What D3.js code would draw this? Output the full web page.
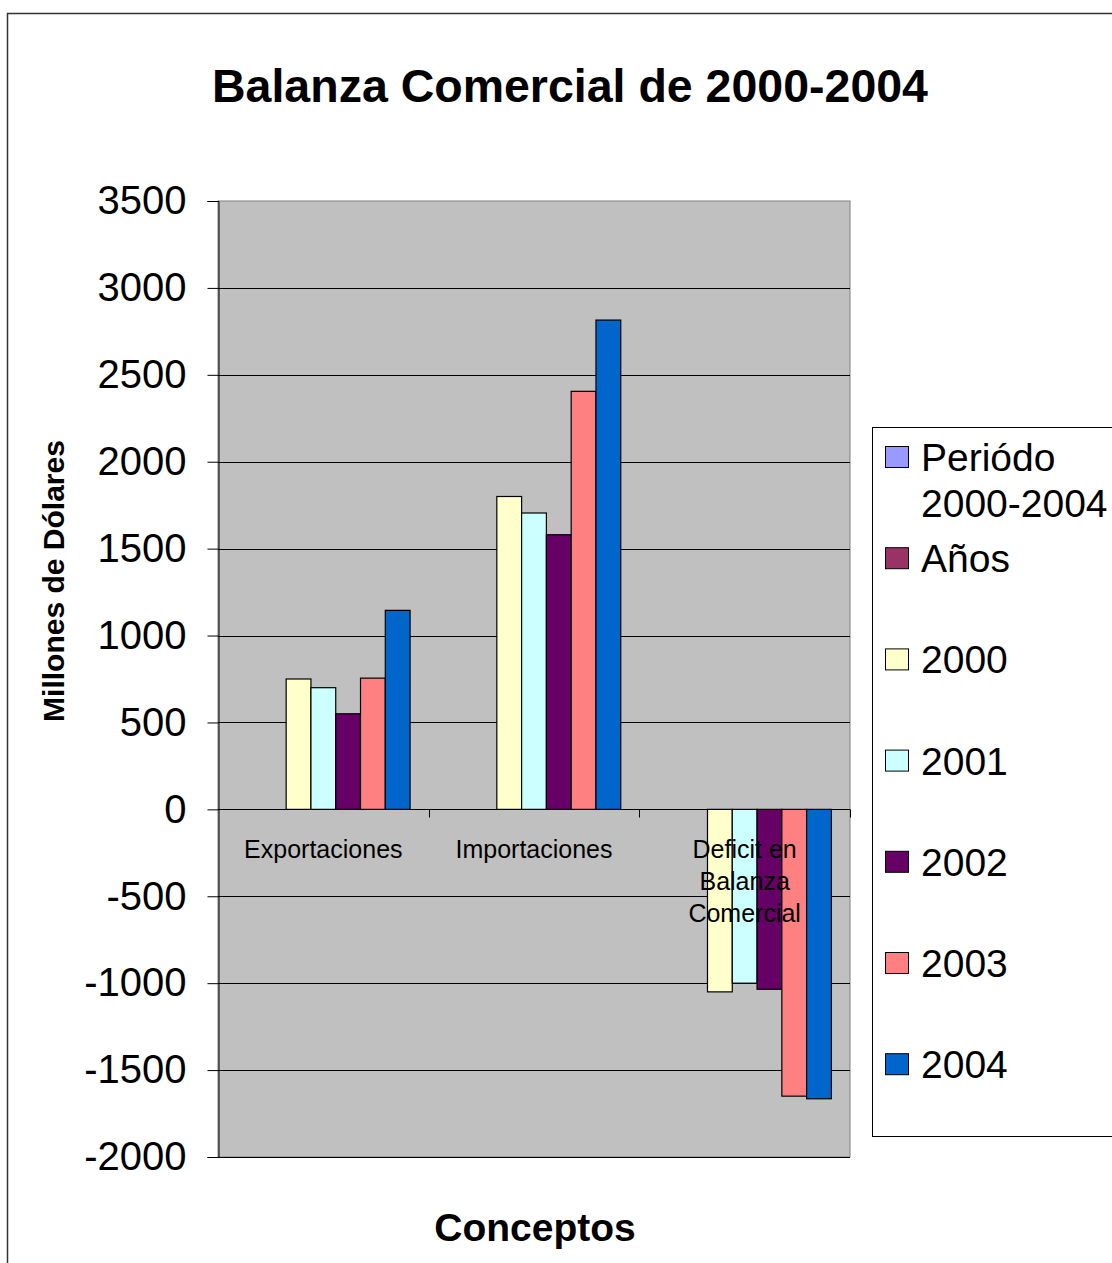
<!DOCTYPE html>
<html>
<head>
<meta charset="utf-8">
<script src="https://cdn.jsdelivr.net/npm/d3@7"></script>
<style>
  html, body { margin: 0; padding: 0; background: #fff; }
  svg { display: block; font-family: "Liberation Sans", Arial, sans-serif; }
</style>
</head>
<body>
<svg id="chart" width="1112" height="1263"></svg>
<script>
// ---- data ----
const categories = ["Exportaciones", "Importaciones", "Deficit en Balanza Comercial"];
const categoryLabelLines = [["Exportaciones"], ["Importaciones"], ["Deficit en", "Balanza", "Comercial"]];
const seriesNames = ["Periódo 2000-2004", "Años", "2000", "2001", "2002", "2003", "2004"];
const legendLabelLines = [["Periódo", "2000-2004"], ["Años"], ["2000"], ["2001"], ["2002"], ["2003"], ["2004"]];
const seriesColors = ["#9999FF", "#993366", "#FFFFCC", "#CCFFFF", "#660066", "#FF8080", "#0066CC"];
const valuesPeriodo = [null, null, null];
const valuesAnios = [null, null, null];
const values2000 = [750, 1800, -1050];
const values2001 = [700, 1705, -1000];
const values2002 = [550, 1580, -1035];
const values2003 = [755, 2405, -1650];
const values2004 = [1145, 2815, -1665];
const yTicks = [3500, 3000, 2500, 2000, 1500, 1000, 500, 0, -500, -1000, -1500, -2000];
const titleText = "Balanza Comercial de 2000-2004";
const yAxisTitle = "Millones de Dólares";
const xAxisTitle = "Conceptos";

const seriesValues = [valuesPeriodo, valuesAnios, values2000, values2001, values2002, values2003, values2004];

// ---- layout ----
const svg = d3.select("#chart");
const plot = { left: 218, right: 850, top: 201, bottom: 1157 };

// outer chart border
svg.append("rect")
  .attr("x", 7.5).attr("y", 13.5)
  .attr("width", 1140).attr("height", 1300)
  .attr("fill", "#fff").attr("stroke", "#333").attr("stroke-width", 1.5);

// title
svg.append("text")
  .attr("x", 570).attr("y", 102)
  .attr("text-anchor", "middle")
  .attr("font-size", 46.5).attr("font-weight", "bold")
  .text(titleText);

const y = d3.scaleLinear().domain([-2000, 3500]).range([plot.bottom, plot.top]);
const x0 = d3.scaleBand().domain(categories).range([plot.left, plot.right]).padding(0);
const bw = x0.bandwidth();
const barW = bw / (seriesNames.length + 1.5);
const x1 = d3.scaleBand().domain(seriesNames).range([0.75 * barW, bw - 0.75 * barW]).padding(0);

// plot background
svg.append("rect")
  .attr("x", plot.left).attr("y", plot.top)
  .attr("width", plot.right - plot.left).attr("height", plot.bottom - plot.top)
  .attr("fill", "#C0C0C0").attr("stroke", "#808080").attr("stroke-width", 1);

// gridlines
svg.append("g").selectAll("line")
  .data(yTicks.filter(t => t !== 3500))
  .join("line")
  .attr("x1", plot.left).attr("x2", plot.right)
  .attr("y1", d => Math.round(y(d)) + 0.5).attr("y2", d => Math.round(y(d)) + 0.5)
  .attr("stroke", "#000").attr("stroke-width", 1);

// bars
const barData = [];
categories.forEach((c, ci) => {
  seriesNames.forEach((s, si) => {
    const v = seriesValues[si][ci];
    if (v !== null && v !== undefined) barData.push({ c, s, v, color: seriesColors[si] });
  });
});
svg.append("g").selectAll("rect")
  .data(barData)
  .join("rect")
  .attr("x", d => x0(d.c) + x1(d.s))
  .attr("width", x1.bandwidth())
  .attr("y", d => y(Math.max(0, d.v)))
  .attr("height", d => Math.abs(y(d.v) - y(0)))
  .attr("fill", d => d.color)
  .attr("stroke", "#000").attr("stroke-width", 1.2);

// y axis
const yAxis = d3.axisLeft(y).tickValues(yTicks).tickSize(11).tickPadding(21).tickFormat(d => String(d));
const yg = svg.append("g").attr("transform", `translate(${plot.left + 0.5},0)`).call(yAxis);
yg.select(".domain").attr("stroke", "#000");
yg.selectAll(".tick line").attr("stroke", "#000");
yg.selectAll(".tick text").attr("font-size", 40).attr("fill", "#000")
  .attr("font-family", "'Liberation Sans', Arial, sans-serif");

// x axis line at zero with ticks at category boundaries
const zeroY = Math.round(y(0)) + 0.5;
svg.append("line")
  .attr("x1", plot.left).attr("x2", plot.right)
  .attr("y1", zeroY).attr("y2", zeroY)
  .attr("stroke", "#000").attr("stroke-width", 1);
const boundaries = categories.map(c => x0(c) + bw);
svg.append("g").selectAll("line")
  .data(boundaries)
  .join("line")
  .attr("x1", d => Math.round(d) + 0.5).attr("x2", d => Math.round(d) + 0.5)
  .attr("y1", zeroY).attr("y2", zeroY + 8)
  .attr("stroke", "#000");

// category labels
categories.forEach((c, ci) => {
  const lines = categoryLabelLines[ci];
  const t = svg.append("text")
    .attr("text-anchor", "middle")
    .attr("font-size", 25)
    .attr("fill", "#000");
  lines.forEach((ln, li) => {
    t.append("tspan")
      .attr("x", x0(c) + bw / 2)
      .attr("y", 849 + li * 32 + 9)
      .text(ln);
  });
});

// axis titles
svg.append("text")
  .attr("transform", `translate(64,581) rotate(-90)`)
  .attr("text-anchor", "middle")
  .attr("font-size", 30).attr("font-weight", "bold")
  .text(yAxisTitle);

svg.append("text")
  .attr("x", 535).attr("y", 1241)
  .attr("text-anchor", "middle")
  .attr("font-size", 39).attr("font-weight", "bold")
  .text(xAxisTitle);

// legend
svg.append("rect")
  .attr("x", 872.5).attr("y", 427.5)
  .attr("width", 300).attr("height", 709)
  .attr("fill", "#fff").attr("stroke", "#000").attr("stroke-width", 1);

const legendItems = svg.append("g").selectAll("g")
  .data(seriesNames.map((s, i) => ({ s, i })))
  .join("g")
  .attr("transform", d => `translate(0,${457 + d.i * 101.2})`);
legendItems.append("rect")
  .attr("x", 885.5).attr("y", -10.5)
  .attr("width", 23).attr("height", 21)
  .attr("fill", d => seriesColors[d.i])
  .attr("stroke", "#000").attr("stroke-width", 1);
legendItems.each(function(d) {
  const t = d3.select(this).append("text")
    .attr("font-size", 39).attr("fill", "#000");
  legendLabelLines[d.i].forEach((ln, li) => {
    t.append("tspan").attr("x", 921).attr("y", 14 + li * 46).text(ln);
  });
});
</script>
</body>
</html>
